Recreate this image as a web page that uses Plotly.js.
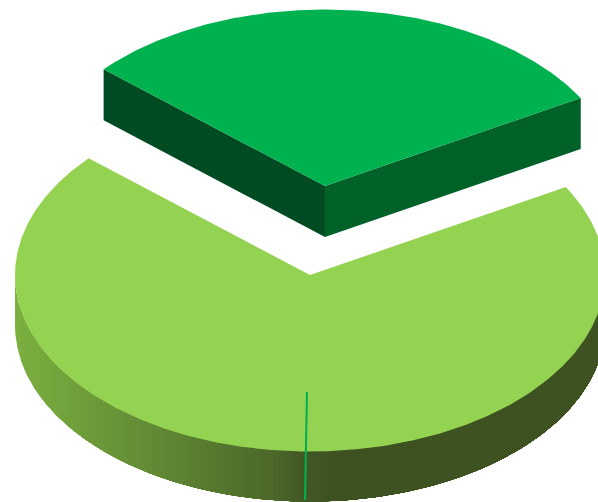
<!DOCTYPE html>
<html>
<head>
<meta charset="utf-8">
<script src="https://cdn.plot.ly/plotly-3.0.1.min.js"></script>
<style>html,body{margin:0;padding:0;background:#fff;overflow:hidden}#chart{width:598px;height:502px}</style>
</head>
<body>
<div id="chart"></div>
<script>
// Data: share of each slice (percent)
var categories = ["Light slice", "Dark slice"];
var shares = [69.8, 30.2];
var topColors = ["#94D352", "#00B14F"];

// Projection of the tilted disc onto the page (pixels)
var radiusX = 295, radiusY = 176.5, depth = 50;
var lightCentre = [310, 275], darkCentre = [325, 186];
var darkStartDeg = 29.9;   // counter-clockwise from 3 o'clock
var TOTAL = shares[0] + shares[1];
var darkSweep = shares[1] / TOTAL * 360;
var lightSweep = shares[0] / TOTAL * 360;
var darkEnd = darkStartDeg + darkSweep;
var lightEnd = darkEnd + lightSweep;

// Wall shading: horizontal position -> colour
var shadeX = [15, 130, 200, 270, 300, 340];
var shadeRGB = [[123,175,64],[102,143,54],[88,123,48],[75,104,41],[66,87,36],[61,81,33]];

function rim(c, deg, dy) {
  var r = deg * Math.PI / 180;
  return [c[0] + radiusX * Math.cos(r), c[1] - radiusY * Math.sin(r) + (dy || 0)];
}
function arc(c, a, b, dy) {
  var n = Math.max(2, Math.ceil(Math.abs(b - a) * 2)), pts = [];
  for (var i = 0; i <= n; i++) pts.push(rim(c, a + (b - a) * i / n, dy));
  return pts;
}
function poly(pts, color) {
  return {
    x: pts.map(function (p) { return p[0]; }),
    y: pts.map(function (p) { return p[1]; }),
    mode: "lines", fill: "toself", fillcolor: color,
    line: {width: 0, color: color}, hoverinfo: "skip", showlegend: false
  };
}
function shadeAt(x) {
  for (var i = 1; i < shadeX.length; i++) {
    if (x <= shadeX[i]) {
      var f = (x - shadeX[i - 1]) / (shadeX[i] - shadeX[i - 1]);
      var c = shadeRGB[i].map(function (v, k) {
        return Math.round(shadeRGB[i - 1][k] + (v - shadeRGB[i - 1][k]) * f);
      });
      return "rgb(" + c.join(",") + ")";
    }
  }
  var l = shadeRGB[shadeRGB.length - 1];
  return "rgb(" + l.join(",") + ")";
}

var traces = [];

// light slice: rim wall, painted left to right so each band overlaps the next
var bandStep = 6;
var wallLeft = lightCentre[0] - radiusX;
for (var bx = wallLeft; bx <= shadeX[shadeX.length - 1]; bx += bandStep) {
  var a0 = 360 - Math.acos((bx - lightCentre[0]) / radiusX) * 180 / Math.PI;
  var band = arc(lightCentre, a0, 360, 0).concat(arc(lightCentre, 360, a0, depth));
  traces.push(poly(band, shadeAt(Math.max(bx, shadeX[0]))));
}
// light slice: top
traces.push(poly([lightCentre].concat(arc(lightCentre, darkEnd, lightEnd, 0)), topColors[0]));

// dark slice: cut faces
var dL = rim(darkCentre, darkEnd, 0), dR = rim(darkCentre, darkStartDeg, 0);
function down(p) { return [p[0], p[1] + depth + 1]; }
traces.push(poly([darkCentre, dL, down(dL), down(darkCentre)], "#004B21"));
traces.push(poly([darkCentre, dR, down(dR), down(darkCentre)], "#006129"));
// dark slice: top
traces.push(poly([darkCentre].concat(arc(darkCentre, darkStartDeg, darkEnd, 0)), topColors[1]));

// leader line
var leaderX = [307, 305], leaderY = [392, 500];
traces.push({x: leaderX, y: leaderY, mode: "lines",
  line: {color: "#00B050", width: 2}, hoverinfo: "skip", showlegend: false});

var hidden = {visible: false, fixedrange: true};
var layout = {
  width: 598, height: 502,
  margin: {l: 0, r: 0, t: 0, b: 0},
  paper_bgcolor: "#fff", plot_bgcolor: "#fff",
  showlegend: false,
  xaxis: Object.assign({range: [0, 598]}, hidden),
  yaxis: Object.assign({range: [502, 0]}, hidden)
};
Plotly.newPlot("chart", traces, layout, {displayModeBar: false, staticPlot: true});
</script>
</body>
</html>
